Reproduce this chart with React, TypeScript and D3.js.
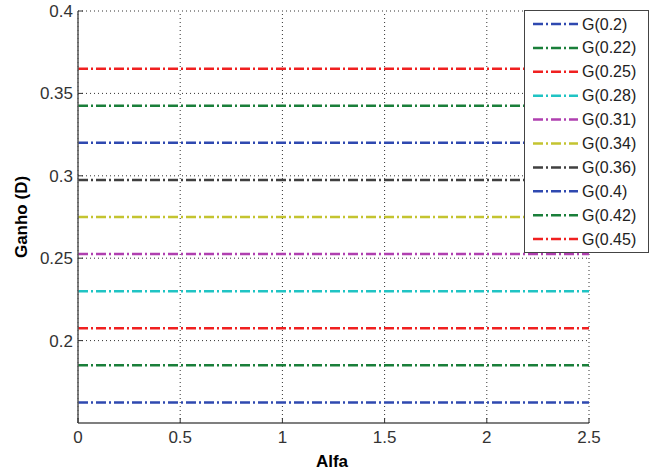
import React from "react";
import * as d3 from "d3";

const labels = ["G(0.2)", "G(0.22)", "G(0.25)", "G(0.28)", "G(0.31)", "G(0.34)", "G(0.36)", "G(0.4)", "G(0.42)", "G(0.45)"];
const gains = [0.1625, 0.185, 0.2075, 0.23, 0.2525, 0.275, 0.2975, 0.32, 0.3425, 0.365];
const colors = ["#2f49b0", "#1a7f3a", "#f02020", "#20c4c4", "#b040b0", "#c4c430", "#404040", "#2f49b0", "#1a7f3a", "#f02020"];
const alfaRange = [0, 2.5];
const xTicks = [0, 0.5, 1, 1.5, 2, 2.5];
const yTicks = [0.2, 0.25, 0.3, 0.35, 0.4];

const W = 652, H = 470;
const L = 78, R = 589, T = 11, B = 423;
const font = "Liberation Sans, Arial, sans-serif";
const dash = "10,3,2,3";

export default function App() {
  const x = d3.scaleLinear().domain([0, 2.5]).range([L, R]);
  const y = d3.scaleLinear().domain([0.15, 0.4]).range([B, T]);
  const line = d3.line<[number, number]>().x(d => x(d[0])).y(d => y(d[1]));
  const fmt = (v: number) => String(+v.toFixed(2));
  return (
    <svg width={W} height={H} style={{ position: "absolute", left: 0, top: 0, background: "#fff" }}>
      <rect x={0} y={0} width={W} height={H} fill="#fff" />
      {xTicks.map(t => (
        <line key={"gx" + t} x1={x(t)} x2={x(t)} y1={B} y2={T} stroke="#333" strokeWidth={1} strokeDasharray="1,3" />
      ))}
      {yTicks.map(t => (
        <line key={"gy" + t} x1={L} x2={R} y1={y(t)} y2={y(t)} stroke="#333" strokeWidth={1} strokeDasharray="1,3" />
      ))}
      {gains.map((g, i) => (
        <path key={"l" + i} d={line([[alfaRange[0], g], [alfaRange[1], g]]) || ""} stroke={colors[i]} strokeWidth={2.5} fill="none" strokeDasharray={dash} />
      ))}
      <line x1={L} x2={R} y1={B} y2={B} stroke="#555" strokeWidth={1.5} />
      <line x1={L} x2={L} y1={B} y2={T} stroke="#555" strokeWidth={1.5} />
      {xTicks.map(t => (
        <g key={"xt" + t}>
          <line x1={x(t)} x2={x(t)} y1={B} y2={B - 5} stroke="#333" strokeWidth={1} />
          <text x={x(t)} y={443} textAnchor="middle" fontFamily={font} fontSize={17} fill="#333">{fmt(t)}</text>
        </g>
      ))}
      {yTicks.map(t => (
        <g key={"yt" + t}>
          <line x1={L} x2={L + 5} y1={y(t)} y2={y(t)} stroke="#333" strokeWidth={1} />
          <text x={73} y={y(t) + 6} textAnchor="end" fontFamily={font} fontSize={17} fill="#333">{fmt(t)}</text>
        </g>
      ))}
      <text x={332} y={467} textAnchor="middle" fontFamily={font} fontSize={17} fontWeight="bold" fill="#000">Alfa</text>
      <text transform={`translate(27,${(T + B) / 2}) rotate(-90)`} textAnchor="middle" fontFamily={font} fontSize={17} fontWeight="bold" fill="#000">Ganho (D)</text>
      <rect x={524.5} y={10.5} width={124} height={242} fill="#fff" stroke="#444" strokeWidth={1} />
      {labels.map((lb, i) => {
        const yy = 24 + i * 23.9;
        return (
          <g key={"lg" + i}>
            <line x1={533} x2={578} y1={yy} y2={yy} stroke={colors[i]} strokeWidth={2.5} strokeDasharray={dash} />
            <text x={582} y={yy + 5.5} fontFamily={font} fontSize={16} fill="#222">{lb}</text>
          </g>
        );
      })}
    </svg>
  );
}
